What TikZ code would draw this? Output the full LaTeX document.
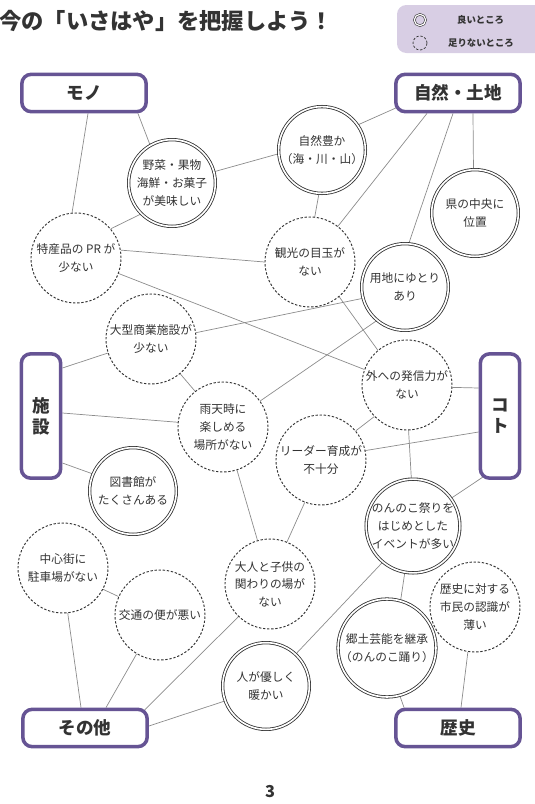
\documentclass[tikz,border=0pt]{standalone}
\usepackage{fontspec}
\setmainfont{Noto Sans CJK JP}
\usetikzlibrary{backgrounds,calc}
\definecolor{catpurple}{RGB}{102,84,148}
\definecolor{legendbg}{RGB}{216,206,228}
\definecolor{txt}{RGB}{51,51,51}

\begin{document}
\begin{tikzpicture}[x=0.03cm,y=-0.03cm,
  good/.style={circle,draw=txt,line width=0.7pt,double=white,double distance=1.4pt,fill=white,
    minimum size=2.6cm,inner sep=0pt,align=center,text=txt,font=\fontsize{10}{15}\selectfont},
  bad/.style={circle,draw=txt,line width=0.8pt,dash pattern=on 2pt off 1.5pt,fill=white,
    minimum size=2.7cm,inner sep=0pt,align=center,text=txt,font=\fontsize{10}{15}\selectfont},
  cat/.style={draw=catpurple,line width=3pt,rounded corners=8pt,fill=white,inner sep=0pt,
    align=center,text=txt,font=\fontsize{15}{18}\selectfont\bfseries},
  catwide/.style={cat,minimum width=3.73cm,minimum height=1.12cm},
  cattall/.style={cat,minimum width=1.18cm,minimum height=3.73cm},
  tie/.style={draw=black!45,line width=0.6pt},
  keytext/.style={anchor=west,inner sep=0pt,text=txt,font=\fontsize{8}{9}\selectfont\bfseries}]
\useasboundingbox (0,0) rectangle (535,804);

% title and legend
\node[anchor=west,inner sep=0pt,text=txt,font=\fontsize{19}{22}\selectfont\bfseries] (title) at (-1,21) {今の「いさはや」を把握しよう！};
\fill[legendbg,rounded corners=8pt] (397,5) rectangle (548,53);
\node[good,minimum size=0.34cm,line width=0.5pt,double distance=1pt,fill=none] (goodkey) at (420,20) {};
\node[bad,minimum size=0.42cm,line width=0.6pt,fill=none] (badkey) at (420,43) {};
\node[keytext] (goodtext) at (457,20) {良いところ};
\node[keytext] (badtext) at (448,43) {足りないところ};

% categories
\node[catwide] (mono) at (84,93) {モノ};
\node[catwide] (nature) at (458,93) {自然・土地};
\node[cattall] (facility) at (41,416) {施\\設};
\node[cattall] (koto) at (500,416) {コ\\ト};
\node[catwide] (other) at (85,728) {その他};
\node[catwide] (history) at (458,728) {歴史};

% good and bad points
\node[good] (food) at (172,183) {野菜・果物\\海鮮・お菓子\\が美味しい};
\node[bad] (pr) at (76,258) {特産品の PR が\\少ない};
\node[good] (rich) at (322,150) {自然豊か\\（海・川・山）};
\node[good] (center) at (475,213) {県の中央に\\位置};
\node[bad] (sight) at (310,262) {観光の目玉が\\ない};
\node[good] (land) at (405,287) {用地にゆとり\\あり};
\node[bad] (mall) at (151,339) {大型商業施設が\\少ない};
\node[bad] (rain) at (223,427) {雨天時に\\楽しめる\\場所がない};
\node[good] (library) at (133,491) {図書館が\\たくさんある};
\node[bad] (outreach) at (407,385) {外への発信力が\\ない};
\node[bad] (leader) at (321,460) {リーダー育成が\\不十分};
\node[good] (festival) at (413,526) {のんのこ祭りを\\はじめとした\\イベントが多い};
\node[bad] (parking) at (63,568) {中心街に\\駐車場がない};
\node[bad] (transit) at (160,615) {交通の便が悪い};
\node[bad] (youth) at (270,584) {大人と子供の\\関わりの場が\\ない};
\node[good] (kind) at (266,686) {人が優しく\\暖かい};
\node[good] (folk) at (387,648) {郷土芸能を継承\\（のんのこ踊り）};
\node[bad] (awareness) at (475,607) {歴史に対する\\市民の認識が\\薄い};

\node[text=txt,font=\fontsize{14}{16}\selectfont\bfseries] (page) at (270,792) {3};

% links
\begin{scope}[on background layer]
\draw[tie] ($(mono.south)+(4,0)$) -- (pr.95);
\draw[tie] ($(mono.south east)+(-10,0)$) -- (food.120);
\draw[tie] (food.15) -- (rich.185);
\draw[tie] (food.225) -- (pr.40);
\draw[tie] (pr.10) -- (sight.180);
\draw[tie] (pr.-20) -- (outreach.160);
\draw[tie] ($(nature.south west)+(3,-6)$) -- (rich.35);
\draw[tie] ($(nature.south)+(-31,0)$) -- (sight.52);
\draw[tie] ($(nature.south)+(-5,0)$) -- (land.85);
\draw[tie] ($(nature.south)+(15,0)$) -- (center.92);
\draw[tie] (rich.266) -- (sight.84);
\draw[tie] (sight.-50) -- (outreach.130);
\draw[tie] (land.195) -- (mall.8);
\draw[tie] (land.230) -- (rain.35);
\draw[tie] ($(facility.east)+(0,-48)$) -- (mall.198);
\draw[tie] ($(facility.east)+(0,-3)$) -- (rain.174);
\draw[tie] ($(facility.east)+(0,47)$) -- (library.157);
\draw[tie] (mall.-50) -- (rain.128);
\draw[tie] (rain.-72) -- (youth.106);
\draw[tie] (outreach.-3) -- ($(koto.west)+(0,-28)$);
\draw[tie] (outreach.224) -- (leader.40);
\draw[tie] (outreach.-88) -- (festival.92);
\draw[tie] ($(koto.west)+(0,16)$) -- (leader.12);
\draw[tie] ($(koto.south west)+(6,-4)$) -- (festival.36);
\draw[tie] (leader.249) -- (youth.68);
\draw[tie] (festival.230) -- (kind.47);
\draw[tie] (festival.260) -- (folk.74);
\draw[tie] (folk.-75) -- ($(history.north west)+(10,0)$);
\draw[tie] (awareness.261) -- ($(history.north)+(3,0)$);
\draw[tie] (parking.-28) -- (transit.156);
\draw[tie] (parking.-84) -- ($(other.north)+(-4,0)$);
\draw[tie] (transit.239) -- ($(other.north)+(21,0)$);
\draw[tie] (youth.226) -- ($(other.north east)+(-5,3)$);
\draw[tie] (kind.200) -- ($(other.east)+(0,-2)$);
\end{scope}
\end{tikzpicture}
\end{document}
